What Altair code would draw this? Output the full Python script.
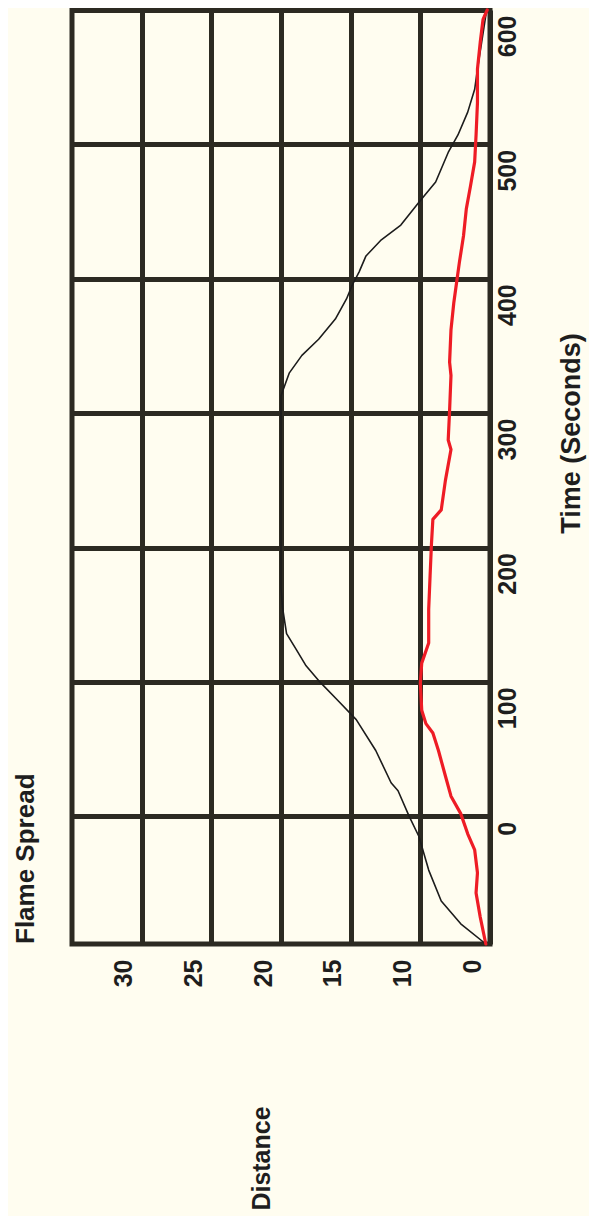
import altair as alt
import pandas as pd

# ---- data read from the (rotated) reference ----
TIME_TICKS = [0, 100, 200, 300, 400, 500, 600]
DIST_TICKS = [0, 5, 10, 15, 20, 25]
DIST_TICK_LABELS = ["0", "10", "15", "20", "25", "30"]

BLACK_T = [-95, -80, -63, -40, -15, 0, 19, 25, 49, 72, 86, 101, 112, 124, 136,
           156, 170, 240, 313, 330, 343, 355, 370, 385, 395, 405, 417, 429, 440,
           457, 472, 494, 507, 524, 541, 556, 576, 596, 600]
BLACK_D = [0.3, 2.1, 3.5, 4.4, 5.1, 5.8, 6.6, 7.1, 8.2, 9.6, 10.9, 12.3, 13.2,
           13.9, 14.6, 14.9, 15.0, 15.0, 15.0, 14.4, 13.5, 12.3, 11.1, 10.3, 9.9,
           9.4, 8.9, 7.8, 6.4, 5.1, 3.9, 3.0, 2.3, 1.6, 1.1, 0.9, 0.6, 0.3, 0.2]

RED_T = [-95, -75, -57, -42, -25, -13, 2, 15, 30, 49, 62, 69, 79, 99, 114, 129,
         154, 179, 203, 221, 228, 250, 273, 280, 302, 328, 338, 362, 382, 397,
         412, 432, 452, 469, 487, 507, 531, 556, 576, 593, 600]
RED_D = [0.3, 0.7, 1.0, 0.9, 1.1, 1.6, 2.1, 2.8, 3.2, 3.7, 4.1, 4.6, 4.9, 5.0,
         4.9, 4.4, 4.4, 4.3, 4.2, 4.1, 3.5, 3.2, 2.8, 3.0, 2.9, 2.8, 2.9, 2.8,
         2.6, 2.4, 2.2, 1.9, 1.7, 1.4, 1.1, 1.0, 0.9, 0.9, 0.7, 0.5, 0.2]

SERIES = ["black", "red"]
COLORS = ["#1c1c1c", "#ee1c25"]
WIDTHS = [1.6, 3.2]

df = pd.concat([
    pd.DataFrame({"t": BLACK_T, "d": BLACK_D, "series": "black"}),
    pd.DataFrame({"t": RED_T, "d": RED_D, "series": "red"}),
], ignore_index=True)

label_expr = ""
for v, lab in zip(DIST_TICKS, DIST_TICK_LABELS):
    label_expr += f"datum.value == {v} ? '{lab}' : "
label_expr += "''"

FONT = "Liberation Sans"
GRID = "#2c2a22"
BG = "#fffdf0"

chart = alt.Chart(df).mark_line(strokeJoin="round", strokeCap="round").encode(
    x=alt.X("d:Q",
            scale=alt.Scale(domain=[0, 30], reverse=True, nice=False, zero=False),
            axis=alt.Axis(values=DIST_TICKS, labelExpr=label_expr, title="Distance",
                          labelAngle=270, labelAlign="right", labelBaseline="alphabetic",
                          labelOffset=-10, labelPadding=15, labelFlush=False,
                          labelOverlap=False, ticks=False, domain=False,
                          grid=True, gridWidth=5, gridColor=GRID, gridOpacity=1,
                          titleAngle=270, titleX=189, titleY=214,
                          titleAlign="center", titleBaseline="middle")),
    y=alt.Y("t:Q",
            scale=alt.Scale(domain=[-95, 600], nice=False, zero=False),
            axis=alt.Axis(orient="right", values=TIME_TICKS, format="d",
                          title="Time (Seconds)",
                          labelAngle=270, labelAlign="right", labelBaseline="top",
                          labelOffset=5, labelPadding=5, labelFlush=False,
                          labelOverlap=False, ticks=False, domain=False,
                          grid=True, gridWidth=5, gridColor=GRID, gridOpacity=1,
                          titleAngle=270, titleX=81, titleY=423, titleFontSize=27,
                          titleAlign="center", titleBaseline="middle")),
    color=alt.Color("series:N", scale=alt.Scale(domain=SERIES, range=COLORS), legend=None),
    strokeWidth=alt.StrokeWidth("series:N", scale=alt.Scale(domain=SERIES, range=WIDTHS), legend=None),
    order=alt.Order("t:Q"),
).properties(
    width=418,
    height=934,
    title=alt.TitleParams("Flame Spread", orient="left", anchor="start", frame="group",
                          offset=33, font=FONT, fontSize=26, fontWeight="bold",
                          color="#1e1e1e"),
    background=BG,
    autosize=alt.AutoSizeParams(type="none"),
    padding={"left": 64, "top": 2, "right": 99, "bottom": 272},
).configure_view(
    stroke=GRID, strokeWidth=5, fill=BG
).configure_axis(
    labelFont=FONT, labelFontSize=25, labelFontWeight="bold", labelColor="#1e1e1e",
    titleFont=FONT, titleFontSize=25, titleFontWeight="bold", titleColor="#1e1e1e",
)

chart.save("out.html", embed_options={"renderer": "svg", "actions": False})
